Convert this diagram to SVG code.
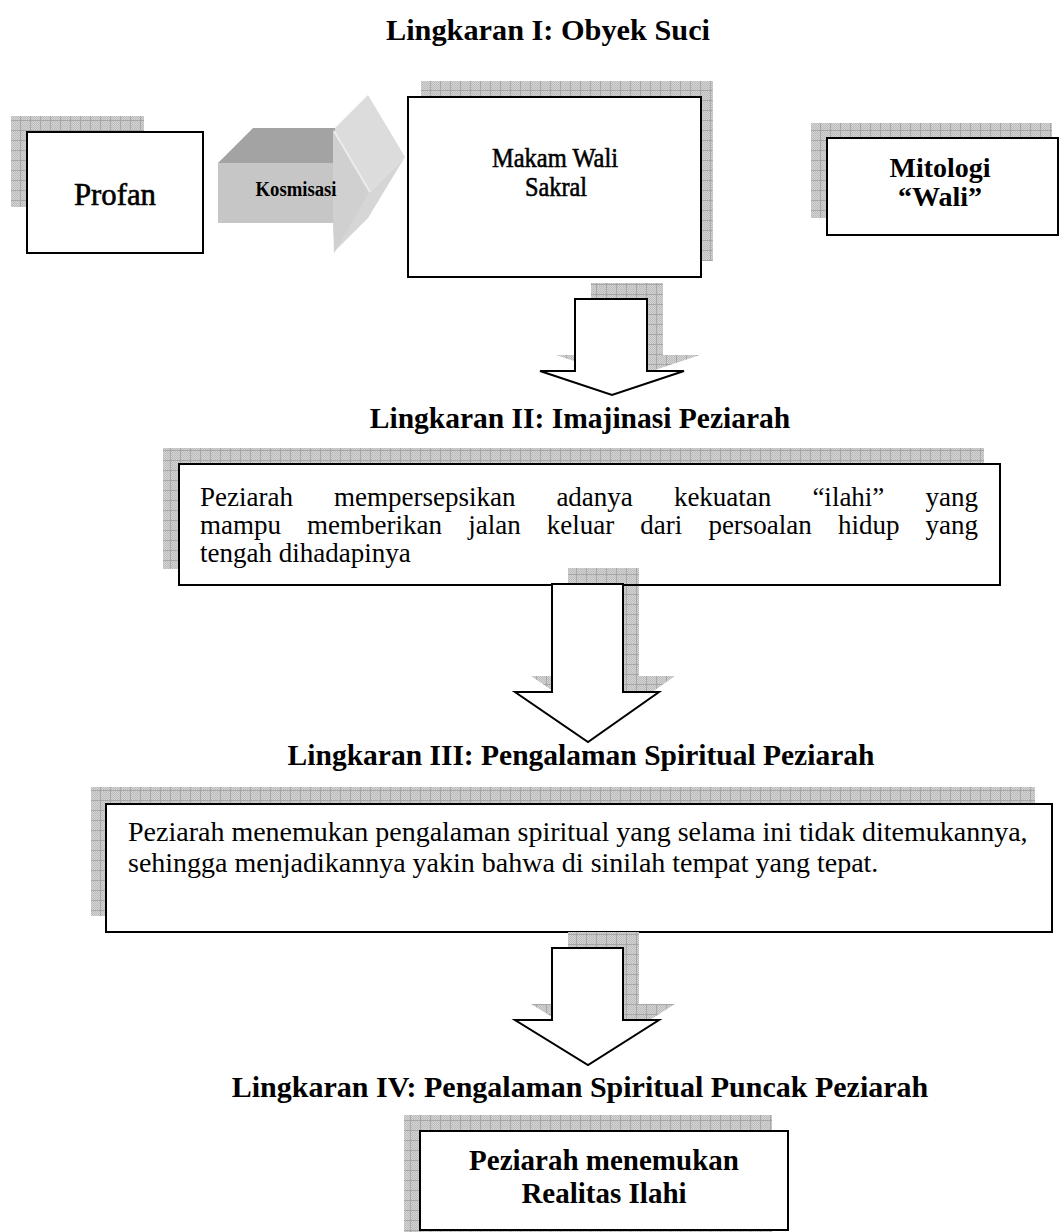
<svg xmlns="http://www.w3.org/2000/svg" xmlns:xlink="http://www.w3.org/1999/xlink" width="1061" height="1232" viewBox="0 0 1061 1232">
<defs>
<pattern id="dither" width="2" height="2" patternUnits="userSpaceOnUse">
<rect width="2" height="2" fill="#d4d4d4"/>
<rect width="1" height="1" fill="#bcbcbc"/>
<rect x="1" y="1" width="1" height="1" fill="#bcbcbc"/>
</pattern>
<pattern id="hatch" width="10" height="10" patternUnits="userSpaceOnUse">
<rect width="10" height="10" fill="url(#dither)"/>
<path d="M0 0.5H10M0.5 0V10" stroke="#a8a8a8" stroke-width="1" fill="none"/>
</pattern>
<style>
.sh{fill:url(#hatch);stroke:none}
.bx{fill:#fff;stroke:#000;stroke-width:2}
.ar{fill:#fff;stroke:#000;stroke-width:2;stroke-linejoin:miter}
.t{font-family:"Liberation Serif","Times New Roman",serif;fill:#000}
.ttl{font-size:29.5px;font-weight:bold;text-anchor:middle}
.body{font-size:28px}
.b2{font-size:27px}
.bold{font-weight:bold}
.mid{text-anchor:middle}
.end{text-anchor:end}
.heavy{stroke:#000;stroke-width:0.6}
</style>
</defs>
<rect width="1061" height="1232" fill="#fff"/>

<g id="title1"><text class="t ttl" x="548" y="40" style="font-size:30.3px">Lingkaran I: Obyek Suci</text></g>

<g id="profan">
<rect class="sh" x="11" y="116" width="133" height="91"/>
<rect class="bx" x="27" y="132" width="176" height="121"/>
<text class="t mid heavy" x="115" y="205" font-size="31" textLength="82" lengthAdjust="spacingAndGlyphs">Profan</text>
</g>

<g id="kosmisasi">
<polygon points="333,130 368,95 405,157 370,192" fill="#dcdcdc"/>
<polygon points="370,192 405,157 368,218 333,253" fill="#d6d6d6"/>
<polygon points="218,163 253,128 335,128 333,163" fill="#a3a3a3"/>
<rect x="218" y="163" width="116" height="60" fill="#c6c6c6"/>
<polygon points="333,130 370,192 334,253 333,223" fill="#d0d0d0"/>
<polyline points="334,131 370,192" fill="none" stroke="#ececec" stroke-width="2"/>
<text class="t bold mid" x="296" y="196" font-size="20" textLength="81" lengthAdjust="spacingAndGlyphs">Kosmisasi</text>
</g>

<g id="makam">
<rect class="sh" x="421" y="81" width="292" height="180"/>
<rect class="bx" x="408" y="97" width="293" height="180"/>
<text class="t mid heavy" x="555" y="167" font-size="28" textLength="126" lengthAdjust="spacingAndGlyphs">Makam Wali</text>
<text class="t mid heavy" x="556" y="196" font-size="28" textLength="62" lengthAdjust="spacingAndGlyphs">Sakral</text>
</g>

<g id="mitologi">
<rect class="sh" x="811" y="123" width="241" height="95"/>
<rect class="bx" x="827" y="138" width="231" height="97"/>
<text class="t bold mid" x="940" y="177" font-size="28">Mitologi</text>
<text class="t bold mid" x="940" y="206" font-size="28">“Wali”</text>
</g>

<g id="title2"><text class="t ttl" x="580" y="428">Lingkaran II: Imajinasi Peziarah</text></g>

<g id="box2">
<rect class="sh" x="163" y="448" width="821" height="121"/>
<rect class="bx" x="179" y="464" width="821" height="121"/>
<text class="t b2" x="200" y="506">Peziarah</text>
<text class="t b2" x="334" y="506">mempersepsikan</text>
<text class="t b2" x="556.4" y="506">adanya</text>
<text class="t b2" x="673.9" y="506">kekuatan</text>
<text class="t b2" x="812.4" y="506">“ilahi”</text>
<text class="t b2 end" x="978" y="506">yang</text>
<text class="t b2" x="200" y="534">mampu</text>
<text class="t b2" x="307.1" y="534">memberikan</text>
<text class="t b2" x="468.2" y="534">jalan</text>
<text class="t b2" x="546.8" y="534">keluar</text>
<text class="t b2" x="640.3" y="534">dari</text>
<text class="t b2" x="708.4" y="534">persoalan</text>
<text class="t b2" x="837.9" y="534">hidup</text>
<text class="t b2 end" x="978" y="534">yang</text>
<text class="t b2" x="200" y="562">tengah dihadapinya</text>
</g>

<g id="title3"><text class="t ttl" x="581" y="765">Lingkaran III: Pengalaman Spiritual Peziarah</text></g>

<g id="box3">
<rect class="sh" x="91" y="787" width="944" height="129"/>
<rect class="bx" x="106" y="804" width="946" height="128"/>
<text class="t body" x="128" y="841">Peziarah menemukan pengalaman spiritual yang selama ini tidak ditemukannya,</text>
<text class="t body" x="128" y="872">sehingga menjadikannya yakin bahwa di sinilah tempat yang tepat.</text>
</g>

<g id="title4"><text class="t ttl" x="580" y="1097" style="font-size:30px">Lingkaran IV: Pengalaman Spiritual Puncak Peziarah</text></g>

<g id="box4">
<rect class="sh" x="404" y="1115" width="368" height="117"/>
<rect class="bx" x="420" y="1131" width="368" height="99"/>
<text class="t bold mid" x="604" y="1170" font-size="29">Peziarah menemukan</text>
<text class="t bold mid" x="604" y="1203" font-size="29">Realitas Ilahi</text>
</g>

<g id="connectors">
<path class="sh" transform="translate(16,-16)" d="M575 299H647V371H684L612 395L540 371H575Z"/>
<path class="ar" d="M575 299H647V371H684L612 395L540 371H575Z"/>
<path class="sh" transform="translate(16,-16)" d="M552 584H623V692H659L588 742L515 692H552Z"/>
<line x1="179" y1="585" x2="1000" y2="585" stroke="#000" stroke-width="2"/>
<path class="ar" d="M552 584H623V692H659L588 742L515 692H552Z"/>
<path class="sh" transform="translate(16,-16)" d="M552 948H623V1020H659L588 1065L515 1020H552Z"/>
<path class="ar" d="M552 948H623V1020H659L588 1065L515 1020H552Z"/>
</g>
</svg>
